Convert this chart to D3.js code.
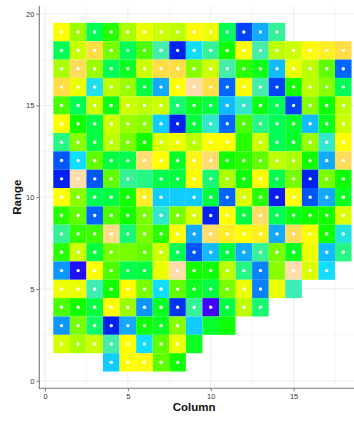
<!DOCTYPE html>
<html>
<head>
<meta charset="utf-8">
<script src="https://cdn.jsdelivr.net/npm/d3@7"></script>
<style>
  html, body { margin: 0; padding: 0; background: #fff; }
  svg { display: block; font-family: "Liberation Sans", Arial, sans-serif; }
</style>
</head>
<body>
<svg id="chart" width="354" height="421"></svg>
<script>
// Field layout: one array per Range row, values listed by Column 1..18 (null = no plot)
const columns = d3.range(1, 19);
const ranges = d3.range(19, 0, -1);
const range19 = [85, 71, 50, 60, 73, 82, 77, 75, 86, 82, 50, 10, 24, 43, null, null, null, null];
const range18 = [50, 77, 91, 67, 50, 63, 41, 6, 33, 43, 58, 85, 41, 75, 77, 86, 88, 91];
const range17 = [73, 93, 71, 50, 55, 77, 91, 91, 69, 77, 41, 60, 56, 27, 82, 75, 65, 14];
const range16 = [91, 82, 35, 75, 71, 52, 24, 85, 100, 91, 14, 85, 41, 10, 58, 75, 69, 50];
const range15 = [63, 50, 77, 56, 77, 75, 77, 47, 55, 52, 27, 38, 56, 50, 10, 69, 57, 75];
const range14 = [85, 58, 52, 77, 71, 69, 30, 6, 52, 38, 14, 63, 45, 50, 54, 27, 55, 77];
const range13 = [45, 69, 52, 75, 67, 58, 79, 82, 75, 85, 85, 60, 77, 50, 54, 71, 38, 85];
const range12 = [12, 33, 65, 52, 51, 95, 85, 54, 87, 95, 58, 60, 65, 75, 73, 58, 24, 93];
const range11 = [6, 100, 12, 65, 43, 45, 51, 52, 85, 47, 73, 57, 85, 51, 67, 6, 67, 57];
const range10 = [85, 69, 50, 52, 58, 88, 30, 30, 30, 52, 14, 79, 60, 5, 85, 12, 24, 55];
const range9  = [60, 65, 14, 63, 58, 67, 38, 67, 79, 6, 85, 52, 94, 50, 56, 58, 58, 79];
const range8  = [43, 61, 62, 97, 47, 67, 60, 85, 24, 94, 88, 85, 88, 24, 93, 85, 58, 36];
const range7  = [60, 77, 52, 67, 67, 65, 77, 50, 12, 27, 52, 24, 43, 67, 55, 82, 27, 45];
const range6  = [21, 3, 85, 63, 51, 52, 82, 100, 58, 57, 75, 45, 18, 69, 100, 79, 33, null];
const range5  = [82, 82, 40, 58, 85, 67, 33, 65, 55, 52, 67, 82, 18, 82, 40, null, null, null];
const range4  = [63, 58, 52, 85, 71, 21, 55, 8, 43, 0, 52, 75, 47, null, null, null, null, null];
const range3  = [21, 67, 48, 6, 24, 57, 55, 69, 30, 54, 57, null, null, null, null, null, null, null];
const range2  = [79, 73, 77, 41, 85, 33, 65, 82, 55, null, null, null, null, null, null, null, null, null];
const range1  = [null, null, null, 30, 85, 86, 65, 58, null, null, null, null, null, null, null, null, null, null];
const rangeRows = [range19, range18, range17, range16, range15, range14, range13, range12, range11, range10,
                   range9, range8, range7, range6, range5, range4, range3, range2, range1];

// Plots without a sample marker: [column, range]
const unmarked = [[12, 13], [6, 11], [8, 10], [5, 7], [16, 7], [7, 6], [14, 6], [14, 5], [15, 5],
                  [9, 3], [10, 3], [11, 3], [9, 2]];

const xTicks = [0, 5, 10, 15];
const yTicks = [0, 5, 10, 15, 20];

// Build cell records
const cells = [];
ranges.forEach((r, i) => {
  rangeRows[i].forEach((v, j) => {
    if (v !== null) cells.push({ column: columns[j], range: r, value: v });
  });
});
const unmarkedSet = new Set(unmarked.map(d => d.join("-")));

const svg = d3.select("#chart");

// Panel geometry
const panel = { left: 39.3, right: 360, top: 6, bottom: 388.3 };
const x = d3.scaleLinear().domain([0, 18]).range([45, 343.3]);
const y = d3.scaleLinear().domain([0, 20]).range([380.7, 13.7]);
const xMin = x.invert(panel.left), xMax = x.invert(panel.right);
const yMin = y.invert(panel.bottom), yMax = y.invert(panel.top);

const color = d3.scaleLinear()
  .domain([0, 6, 14, 24, 33, 41, 50, 58, 67, 77, 85, 91, 100])
  .range(["#4400FF", "#0022EE", "#0066FF", "#11AAFF", "#11DDFF", "#44EEAA", "#00FF55",
          "#11FF00", "#77FF00", "#CCFF00", "#FFFF00", "#FFDD44", "#FFDDAA"])
  .clamp(true);

// Grid lines (major and minor)
const grid = svg.append("g");
const xMinor = d3.range(Math.ceil(xMin / 2.5) * 2.5, xMax, 2.5);
const yMinor = d3.range(Math.ceil(yMin / 2.5) * 2.5, yMax, 2.5);
grid.selectAll("line.vx").data(xMinor).join("line")
  .attr("x1", d => x(d)).attr("x2", d => x(d))
  .attr("y1", panel.top).attr("y2", panel.bottom)
  .attr("stroke", d => d % 5 === 0 ? "#EBEBEB" : "#F2F2F2")
  .attr("stroke-width", d => d % 5 === 0 ? 1.1 : 0.7);
grid.selectAll("line.hy").data(yMinor).join("line")
  .attr("y1", d => y(d)).attr("y2", d => y(d))
  .attr("x1", panel.left).attr("x2", panel.right)
  .attr("stroke", d => d % 5 === 0 ? "#EBEBEB" : "#F2F2F2")
  .attr("stroke-width", d => d % 5 === 0 ? 1.1 : 0.7);

// Tiles
const tw = x(1) - x(0), th = y(0) - y(1);
svg.append("g").selectAll("rect").data(cells).join("rect")
  .attr("x", d => x(d.column - 0.5))
  .attr("y", d => y(d.range + 0.5))
  .attr("width", tw)
  .attr("height", th)
  .attr("fill", d => color(d.value));

// Sample markers
svg.append("g").selectAll("circle")
  .data(cells.filter(d => !unmarkedSet.has(d.column + "-" + d.range)))
  .join("circle")
  .attr("cx", d => x(d.column))
  .attr("cy", d => y(d.range))
  .attr("r", 1.7)
  .attr("fill", "#fff");

// Axes
const xAxis = d3.axisBottom(x).tickValues(xTicks).tickSize(3).tickPadding(2);
const yAxis = d3.axisLeft(y).tickValues(yTicks).tickSize(3).tickPadding(2);

const gx = svg.append("g").attr("transform", `translate(0,${panel.bottom})`).call(xAxis);
const gy = svg.append("g").attr("transform", `translate(${panel.left},0)`).call(yAxis);
[gx, gy].forEach(g => {
  g.select(".domain").remove();
  g.selectAll(".tick line").attr("stroke", "#555").attr("stroke-width", 0.8);
  g.selectAll(".tick text").attr("fill", "#333").style("font-size", "7.5px")
    .style("font-family", "'Liberation Sans', Arial, sans-serif");
});
svg.append("line").attr("x1", panel.left).attr("x2", panel.left)
  .attr("y1", panel.top).attr("y2", panel.bottom + 0.5)
  .attr("stroke", "#777").attr("stroke-width", 1.1);
svg.append("line").attr("x1", panel.left - 0.5).attr("x2", panel.right)
  .attr("y1", panel.bottom).attr("y2", panel.bottom)
  .attr("stroke", "#777").attr("stroke-width", 1.1);

// Axis titles
svg.append("text")
  .attr("x", x(9)).attr("y", 411)
  .attr("text-anchor", "middle")
  .style("font-size", "11.5px").style("font-weight", "bold").attr("fill", "#111")
  .text("Column");
svg.append("text")
  .attr("transform", `translate(21,${y(10)}) rotate(-90)`)
  .attr("text-anchor", "middle")
  .style("font-size", "11.5px").style("font-weight", "bold").attr("fill", "#111")
  .text("Range");
</script>
</body>
</html>
